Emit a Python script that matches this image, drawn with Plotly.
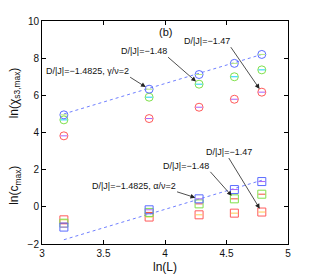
import plotly.graph_objects as go

lnL = [3.178, 3.871, 4.277, 4.564, 4.787]

chi_blue = [4.95, 6.33, 7.12, 7.72, 8.2]
chi_green = [4.68, 5.9, 6.6, 7.0, 7.37]
chi_red = [3.82, 4.75, 5.36, 5.79, 6.17]

c_blue = [-1.09, -0.16, 0.43, 0.93, 1.36]
c_green = [-0.88, -0.3, 0.16, 0.43, 0.68]
c_red = [-0.7, -0.55, -0.43, -0.34, -0.28]

fit_x = [3.178, 4.787]
chi_fit = [5.0, 8.2]
c_fit = [-1.77, 1.43]

BLUE = "#5a6cff"
GREEN = "#7fe04a"
RED = "#ff5a5a"

fig = go.Figure()

def add_pts(y, color, symbol):
    fig.add_trace(go.Scatter(x=lnL, y=y, mode="markers",
                             marker=dict(symbol=symbol + "-open", size=8,
                                         line=dict(color=color, width=1), color=color),
                             showlegend=False, hoverinfo="skip"))
    fig.add_trace(go.Scatter(x=lnL, y=y, mode="markers",
                             marker=dict(symbol="line-ew-open", size=5,
                                         line=dict(color=color, width=1)),
                             showlegend=False, hoverinfo="skip"))

fig.add_trace(go.Scatter(x=fit_x, y=chi_fit, mode="lines",
                         line=dict(color="#7080ff", width=1, dash="dot"), showlegend=False))
fig.add_trace(go.Scatter(x=fit_x, y=c_fit, mode="lines",
                         line=dict(color="#7080ff", width=1, dash="dot"), showlegend=False))

for ys, col in [(chi_red, RED), (chi_green, GREEN), (chi_blue, BLUE)]:
    add_pts(ys, col, "circle")
for ys, col in [(c_red, RED), (c_green, GREEN), (c_blue, BLUE)]:
    add_pts(ys, col, "square")

font = "Liberation Sans, Arial, sans-serif"

def arrow(text, x, y, ax, ay, xanchor="right"):
    fig.add_annotation(x=x, y=y, ax=ax, ay=ay, xref="x", yref="y", axref="pixel", ayref="pixel",
                       text=text, showarrow=True, arrowhead=2, arrowsize=1.2, arrowwidth=0.8,
                       arrowcolor="#222", font=dict(size=9, color="#111", family=font),
                       xanchor=xanchor, yanchor="bottom", standoff=4, borderpad=0)

# top panel annotations
arrow("D/|J|=\u22121.4825, \u03b3/\u03bd=2", lnL[1], chi_blue[1], -19, -12)
arrow("D/|J|=\u22121.48", lnL[2], chi_green[2], -31, -27)
arrow("D/|J|=\u22121.47", lnL[4], chi_red[4], -31, -45)
# bottom panel annotations
arrow("D/|J|=\u22121.4825, \u03b1/\u03bd=2", lnL[2], c_blue[2], -22, -7)
arrow("D/|J|=\u22121.48", lnL[3], c_green[3], -24, -27)
arrow("D/|J|=\u22121.47", lnL[4], c_red[4], -33, -54, xanchor="center")

fig.add_annotation(x=4.0, y=9.4, xref="x", yref="y", text="(b)", showarrow=False,
                   font=dict(size=11, color="#111", family=font))

fig.add_annotation(x=-0.11, y=0.68, xref="paper", yref="paper", textangle=-90,
                   text="ln(\u03c7<sub>s3,max</sub>)", showarrow=False,
                   xanchor="center", yanchor="middle",
                   font=dict(size=12, color="#111", family=font))
fig.add_annotation(x=-0.11, y=0.265, xref="paper", yref="paper", textangle=-90,
                   text="ln(c<sub>max</sub>)", showarrow=False,
                   xanchor="center", yanchor="middle",
                   font=dict(size=12, color="#111", family=font))
fig.add_annotation(x=0.5, y=-0.103, xref="paper", yref="paper",
                   text="ln(L)", showarrow=False, xanchor="center", yanchor="middle",
                   font=dict(size=12, color="#111", family=font))

axis_common = dict(showgrid=False, zeroline=False, showline=True, linecolor="#000",
                   linewidth=1, mirror="ticks", ticks="inside", ticklen=4, automargin=False,
                   tickcolor="#000", tickfont=dict(size=10, color="#111", family=font))

fig.update_xaxes(range=[3, 5], tickvals=[3, 3.5, 4, 4.5, 5],
                 ticktext=["3", "3.5", "4", "4.5", "5"], **axis_common)
fig.update_yaxes(range=[-2, 10], tickvals=[-2, 0, 2, 4, 6, 8, 10],
                 ticktext=["\u22122", "0", "2", "4", "6", "8", "10"], **axis_common)

fig.update_layout(width=311, height=267, margin=dict(l=34, r=31, t=13, b=31),
                  plot_bgcolor="white", paper_bgcolor="white",
                  font=dict(family=font))

fig.write_html("out.html")
